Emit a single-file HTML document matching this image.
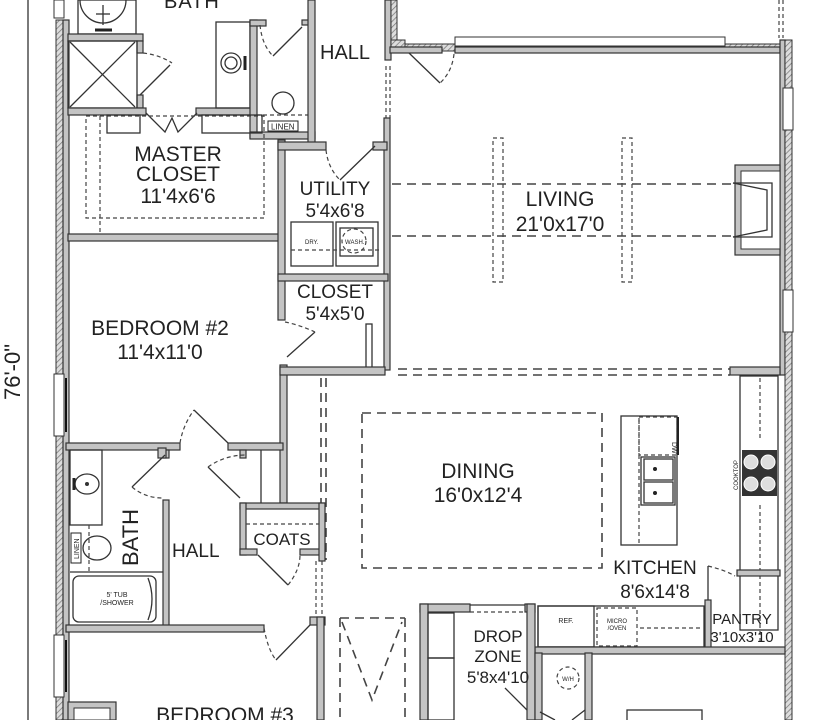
<!DOCTYPE html>
<html><head><meta charset="utf-8"><style>
html,body{margin:0;padding:0;background:#fff;width:820px;height:720px;overflow:hidden}
svg{display:block}
text{font-family:"Liberation Sans",sans-serif;fill:#222}
.w{fill:#c4c4c4;stroke:#333;stroke-width:1.2}
.l{fill:none;stroke:#333;stroke-width:1.3}
.d{fill:none;stroke:#444;stroke-width:1.6;stroke-dasharray:9,6}
.dt{fill:none;stroke:#444;stroke-width:1.2;stroke-dasharray:4,3}
.h{fill:url(#hatch);stroke:#333;stroke-width:1}
</style></head><body>
<svg width="820" height="720" viewBox="0 0 820 720" xmlns="http://www.w3.org/2000/svg">
<defs><pattern id="hatch" width="4" height="4" patternUnits="userSpaceOnUse" patternTransform="rotate(45)"><rect width="4" height="4" fill="#ddd"/><line x1="0" y1="0" x2="0" y2="4" stroke="#777" stroke-width="1.5"/></pattern></defs>

<line x1="28" y1="0" x2="28" y2="720" class="l"/>
<text x="0" y="0" font-size="22" transform="translate(20,400) rotate(-90)">76'-0"</text>

<rect x="56" y="20" width="7" height="700" class="h"/>
<rect x="63" y="20" width="6" height="700" class="w"/>
<rect x="54" y="0" width="10" height="18" fill="#fff" stroke="#333"/>
<rect x="54" y="374" width="10" height="62" fill="#fff" stroke="#333"/>
<line x1="66" y1="378" x2="66" y2="432" stroke="#111" stroke-width="2"/>
<rect x="54" y="635" width="10" height="62" fill="#fff" stroke="#333"/>
<line x1="66" y1="640" x2="66" y2="692" stroke="#111" stroke-width="2"/>

<rect x="78" y="0" width="58" height="34" class="l"/>
<path d="M80,0 A23,23 0 0 0 126,0" class="l"/>
<line x1="103" y1="5" x2="103" y2="25" class="l"/><line x1="96" y1="14" x2="110" y2="14" class="l"/>
<line x1="95" y1="30" x2="112" y2="30" stroke="#222" stroke-width="3"/>
<rect x="68" y="34" width="75" height="7" class="w"/>
<rect x="137" y="41" width="6" height="12" class="w"/>
<rect x="137" y="95" width="6" height="13" class="w"/>
<rect x="68" y="41" width="69" height="67" class="l"/>
<line x1="70" y1="42" x2="135" y2="107" class="l"/><line x1="135" y1="42" x2="70" y2="107" class="l"/>
<path d="M140,95 L170,65" class="l" stroke-width="2"/>
<path d="M143,53 Q160,55 172,63" class="dt"/>
<rect x="68" y="108" width="78" height="7" class="w"/>
<rect x="196" y="108" width="60" height="7" class="w"/>
<path d="M146,113 L165,132 L172,118 L178,132 L197,113" class="l" stroke-width="1.8"/>
<rect x="216" y="22" width="34" height="86" class="l"/>
<circle cx="231" cy="63" r="10" class="l"/><circle cx="231" cy="63" r="6" class="l"/>
<line x1="245" y1="56" x2="245" y2="70" stroke="#222" stroke-width="3"/>
<rect x="250" y="20" width="7" height="118" class="w"/>
<rect x="250" y="20" width="16" height="6" class="w"/>
<rect x="250" y="132" width="65" height="7" class="w"/>
<ellipse cx="283" cy="103" rx="11" ry="11" class="l"/>
<line x1="256" y1="115" x2="310" y2="115" class="dt"/>
<rect x="268" y="121" width="30" height="10" fill="#fff" stroke="#222"/>
<text x="271" y="129.5" font-size="8">LINEN</text>
<path d="M273,56 L302,27" class="l" stroke-width="2"/>
<path d="M260,25 Q262,45 273,56" class="dt"/>
<rect x="302" y="20" width="8" height="5" class="w"/>
<rect x="308" y="0" width="7" height="145" class="w"/>
<text x="164" y="8" font-size="20" letter-spacing="1">BATH</text>

<text x="320" y="59" font-size="20">HALL</text>
<rect x="385" y="0" width="6" height="60" class="w"/>
<rect x="391" y="0" width="6" height="42" class="h"/>
<rect x="391" y="40" width="14" height="7" class="h"/>
<line x1="386" y1="66" x2="386" y2="118" class="dt"/><line x1="390" y1="66" x2="390" y2="118" class="dt"/>
<rect x="384" y="118" width="6" height="252" class="w"/>

<rect x="86" y="116" width="178" height="102" class="dt"/>
<line x1="100" y1="116" x2="100" y2="235" class="dt"/>
<rect x="107" y="115" width="33" height="18" class="l"/>
<rect x="202" y="115" width="60" height="18" class="l"/>
<text x="178" y="161" font-size="21" text-anchor="middle">MASTER</text>
<text x="178" y="181" font-size="21" text-anchor="middle">CLOSET</text>
<text x="178" y="203" font-size="21" text-anchor="middle">11'4x6'6</text>
<rect x="68" y="234" width="215" height="7" class="w"/>
<rect x="278" y="140" width="7" height="180" class="w"/>

<rect x="278" y="142" width="48" height="8" class="w"/>
<rect x="373" y="142" width="14" height="8" class="w"/>
<path d="M340,180 L375,146" class="l" stroke-width="2"/>
<path d="M326,150 Q328,168 340,180" class="dt"/>
<text x="335" y="195" font-size="19" text-anchor="middle">UTILITY</text>
<text x="335" y="217" font-size="19" text-anchor="middle">5'4x6'8</text>
<rect x="291" y="222" width="42" height="44" class="l"/>
<rect x="336" y="222" width="42" height="44" class="l"/>
<rect x="340" y="228" width="33" height="28" class="l"/>
<circle cx="354" cy="241" r="12" class="dt"/>
<text x="305" y="244" font-size="6">DRY.</text>
<text x="345" y="244" font-size="6">WASH.</text>
<line x1="291" y1="250" x2="380" y2="250" class="dt"/>
<rect x="278" y="274" width="110" height="7" class="w"/>
<text x="335" y="298" font-size="19" text-anchor="middle">CLOSET</text>
<text x="335" y="320" font-size="19" text-anchor="middle">5'4x5'0</text>
<rect x="366" y="324" width="6" height="48" class="l"/>
<path d="M287,357 L315,332" class="l" stroke-width="2"/>
<path d="M285,322 Q300,325 315,332" class="dt"/>

<text x="160" y="335" font-size="21" text-anchor="middle">BEDROOM #2</text>
<text x="160" y="359" font-size="21" text-anchor="middle">11'4x11'0</text>
<rect x="280" y="365" width="7" height="138" class="w"/>
<rect x="280" y="367" width="105" height="8" class="w"/>

<rect x="405" y="44" width="375" height="7" class="h"/>
<rect x="455" y="37" width="270" height="9" fill="#fff" stroke="#333"/>
<line x1="475" y1="49" x2="720" y2="49" stroke="#222" stroke-width="2"/>
<rect x="390" y="47" width="52" height="6" class="w"/>
<rect x="455" y="47" width="325" height="6" class="w"/>
<path d="M409,53 L440,83" class="l" stroke-width="2"/>
<path d="M454,54 Q452,72 440,83" class="dt"/>
<rect x="780" y="40" width="5" height="335" class="w"/>
<rect x="785" y="40" width="7" height="680" class="h"/>
<rect x="783" y="88" width="10" height="42" fill="#fff" stroke="#333"/>
<rect x="783" y="290" width="10" height="42" fill="#fff" stroke="#333"/>
<line x1="779" y1="0" x2="779" y2="38" class="dt"/><line x1="783" y1="0" x2="783" y2="38" class="dt"/>
<rect x="735" y="165" width="45" height="90" class="w"/>
<rect x="741" y="171" width="39" height="78" fill="#fff" stroke="#333"/>
<path d="M733,183 L772,183 L772,237 L733,237" class="l"/>
<path d="M733,183 L767,190 L767,230 L733,237" class="l"/>
<line x1="392" y1="184" x2="733" y2="184" class="d"/>
<line x1="392" y1="236" x2="733" y2="236" class="d"/>
<rect x="493" y="138" width="10" height="144" class="dt"/>
<rect x="622" y="138" width="10" height="144" class="dt"/>
<text x="560" y="206" font-size="21" text-anchor="middle">LIVING</text>
<text x="560" y="231" font-size="21" text-anchor="middle">21'0x17'0</text>
<line x1="398" y1="369" x2="730" y2="369" class="d"/>
<line x1="398" y1="375" x2="730" y2="375" class="d"/>
<rect x="730" y="367" width="50" height="8" class="w"/>

<line x1="321" y1="378" x2="321" y2="560" class="d"/>
<line x1="326" y1="378" x2="326" y2="560" class="d"/>
<rect x="66" y="443" width="114" height="7" class="w"/>
<rect x="228" y="443" width="55" height="7" class="w"/>
<path d="M194,410 L228,443" class="l" stroke-width="2"/>
<path d="M180,443 Q183,425 194,410" class="dt"/>
<rect x="163" y="450" width="6" height="8" class="w"/>
<rect x="240" y="450" width="6" height="8" class="w"/>
<path d="M208,467 L240,498" class="l" stroke-width="2"/>
<path d="M208,467 Q225,455 246,455" class="dt"/>
<line x1="261" y1="450" x2="261" y2="503" class="l"/>

<rect x="240" y="503" width="85" height="6" class="w"/>
<rect x="240" y="503" width="6" height="52" class="w"/>
<rect x="240" y="549" width="17" height="6" class="w"/>
<rect x="300" y="549" width="25" height="6" class="w"/>
<rect x="319" y="503" width="6" height="58" class="w"/>
<line x1="246" y1="524" x2="319" y2="524" class="dt"/>
<text x="282" y="545" font-size="17" text-anchor="middle">COATS</text>
<path d="M258,555 L288,585" class="l" stroke-width="2"/>
<path d="M288,585 Q300,570 300,555" class="dt"/>
<line x1="316" y1="561" x2="316" y2="615" class="dt"/><line x1="322" y1="561" x2="322" y2="615" class="dt"/>

<rect x="163" y="500" width="6" height="128" class="w"/>
<rect x="158" y="448" width="8" height="10" class="w"/>
<path d="M132,487 L165,455" class="l" stroke-width="2"/>
<path d="M132,487 Q145,498 163,498" class="dt"/>
<rect x="70" y="450" width="32" height="75" class="l"/>
<ellipse cx="87" cy="484" rx="12" ry="10" class="l"/><circle cx="87" cy="484" r="2" fill="#333"/>
<line x1="74" y1="478" x2="74" y2="490" stroke="#222" stroke-width="3"/>
<line x1="89" y1="525" x2="89" y2="572" class="dt"/>
<ellipse cx="97" cy="548" rx="14" ry="12" class="l"/>
<rect x="71" y="533" width="10" height="30" fill="#fff" stroke="#222"/>
<text x="0" y="0" font-size="7" transform="translate(79,559) rotate(-90)">LINEN</text>
<text x="0" y="0" font-size="22" transform="translate(138,566) rotate(-90)">BATH</text>
<line x1="70" y1="572" x2="163" y2="572" class="l"/>
<rect x="73" y="576" width="83" height="46" rx="6" class="l"/>
<path d="M148,578 Q156,599 148,620" class="l"/>
<text x="117" y="597" font-size="7" text-anchor="middle">5' TUB</text>
<text x="117" y="605" font-size="7" text-anchor="middle">/SHOWER</text>
<text x="172" y="557" font-size="19">HALL</text>
<rect x="66" y="625" width="198" height="7" class="w"/>
<rect x="310" y="617" width="15" height="8" class="w"/>
<rect x="317" y="617" width="7" height="103" class="w"/>
<path d="M276,660 L310,625" class="l" stroke-width="2"/>
<path d="M264,628 Q268,650 276,660" class="dt"/>

<rect x="68" y="702" width="48" height="18" class="w"/>
<rect x="74" y="708" width="36" height="12" fill="#fff" stroke="#333"/>
<text x="225" y="722" font-size="21" text-anchor="middle">BEDROOM #3</text>

<rect x="362" y="413" width="240" height="155" class="d"/>
<text x="478" y="478" font-size="21" text-anchor="middle">DINING</text>
<text x="478" y="502" font-size="21" text-anchor="middle">16'0x12'4</text>

<rect x="621" y="416" width="56" height="129" class="l"/>
<line x1="639" y1="420" x2="639" y2="545" class="dt"/>
<rect x="639" y="417" width="38" height="38" class="dt"/>
<line x1="678" y1="417" x2="678" y2="455" stroke="#222" stroke-width="2"/>
<text x="0" y="0" font-size="7" transform="translate(672,442) rotate(90)">DW</text>
<rect x="641" y="457" width="34" height="48" class="l"/>
<rect x="644" y="459" width="29" height="21" class="l"/>
<rect x="644" y="482" width="29" height="21" class="l"/>
<circle cx="655" cy="469" r="2" fill="#222"/><circle cx="655" cy="493" r="2" fill="#222"/>

<rect x="740" y="376" width="38" height="254" class="l"/>
<line x1="760" y1="378" x2="760" y2="440" class="dt"/>
<line x1="760" y1="505" x2="760" y2="645" class="dt"/>
<rect x="742" y="450" width="35" height="46" fill="#333"/>
<circle cx="751" cy="462" r="7" fill="#ddd" stroke="#fff"/><circle cx="768" cy="462" r="7" fill="#ddd" stroke="#fff"/>
<circle cx="751" cy="484" r="7" fill="#ddd" stroke="#fff"/><circle cx="768" cy="484" r="7" fill="#ddd" stroke="#fff"/>
<text x="0" y="0" font-size="6" transform="translate(738,490) rotate(-90)">COOKTOP</text>

<text x="655" y="574" font-size="19" text-anchor="middle">KITCHEN</text>
<text x="655" y="598" font-size="19" text-anchor="middle">8'6x14'8</text>
<rect x="737" y="570" width="43" height="6" class="w"/>
<path d="M708,566 Q725,570 735,576" class="dt"/>
<rect x="705" y="600" width="6" height="52" class="w"/>
<line x1="708" y1="566" x2="708" y2="600" class="l" stroke-width="2"/>
<text x="742" y="624" font-size="15" text-anchor="middle">PANTRY</text>
<text x="742" y="642" font-size="15" text-anchor="middle">3'10x3'10</text>
<rect x="538" y="606" width="166" height="41" class="l"/>
<rect x="538" y="606" width="56" height="41" class="l"/>
<text x="566" y="623" font-size="7" text-anchor="middle">REF.</text>
<rect x="597" y="608" width="40" height="38" class="dt"/>
<text x="617" y="623" font-size="6" text-anchor="middle">MICRO</text>
<text x="617" y="630" font-size="6" text-anchor="middle">/OVEN</text>
<line x1="640" y1="628" x2="702" y2="628" class="dt"/>
<rect x="535" y="647" width="250" height="7" class="w"/>

<rect x="420" y="604" width="50" height="8" class="w"/>
<rect x="525" y="604" width="10" height="8" class="w"/>
<line x1="470" y1="605" x2="525" y2="605" class="l"/>
<line x1="470" y1="612" x2="525" y2="612" class="dt"/>
<rect x="420" y="604" width="8" height="116" class="w"/>
<rect x="527" y="604" width="8" height="116" class="w"/>
<rect x="428" y="613" width="26" height="45" class="l"/>
<rect x="428" y="658" width="26" height="62" class="l"/>
<text x="498" y="642" font-size="17" text-anchor="middle">DROP</text>
<text x="498" y="662" font-size="17" text-anchor="middle">ZONE</text>
<text x="498" y="683" font-size="17" text-anchor="middle">5'8x4'10</text>
<path d="M505,688 L527,710" class="l"/>
<rect x="535" y="653" width="7" height="67" class="w"/>
<rect x="585" y="653" width="7" height="67" class="w"/>
<circle cx="568" cy="678" r="11" class="dt"/>
<text x="568" y="681" font-size="6" text-anchor="middle">W/H</text>
<path d="M540,712 L555,720 M585,710 L572,720" class="l"/>
<rect x="627" y="710" width="75" height="12" class="l"/>

<path d="M340,618 L340,720 M405,618 L405,720 M340,618 L405,618 M342,622 L372,700 L402,622" class="d"/>
</svg>
</body></html>
